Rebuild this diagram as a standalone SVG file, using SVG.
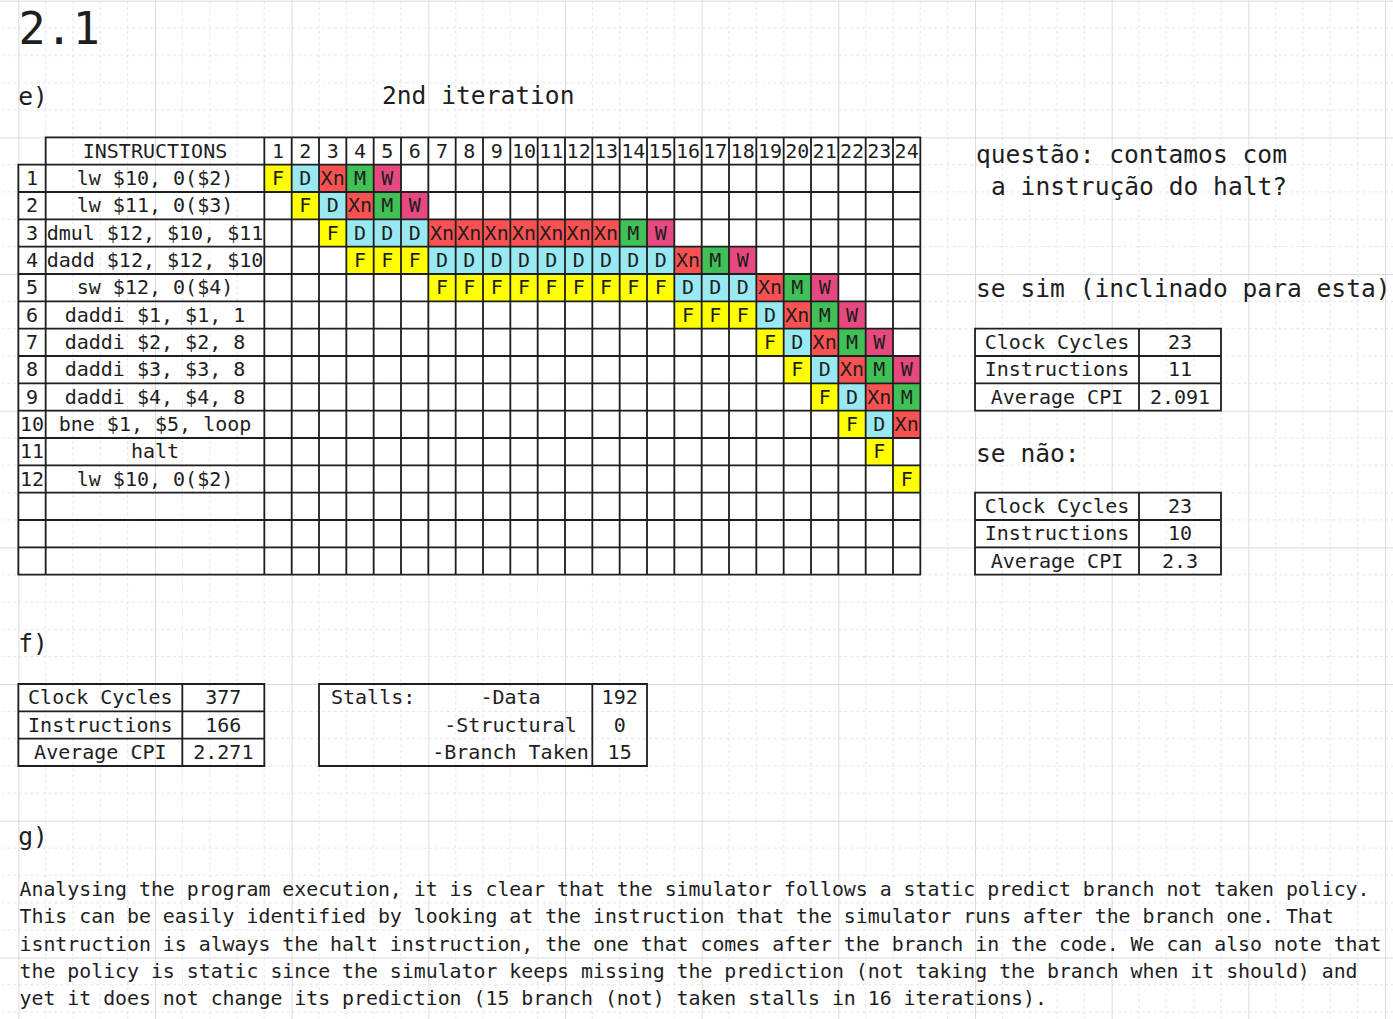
<svg xmlns="http://www.w3.org/2000/svg" width="1393" height="1019" viewBox="0 0 1393 1019">
<style>
text{font-family:"DejaVu Sans Mono","Liberation Mono",monospace;fill:#1e1e1e}
.t20{font-size:20px}
.t25{font-size:24.6px}
.c{text-anchor:middle}
.ln{fill:none;stroke:#1e1e1e;stroke-width:1.8;stroke-linecap:square}
.cell{stroke:none}
.ct{font-size:20px;text-anchor:middle}
.para{font-size:19.85px}
</style>
<defs>
<pattern id="grid" patternUnits="userSpaceOnUse" x="18.333" y="0.667" width="136.667" height="136.667">
<path d="M27.333 0V136.667M54.667 0V136.667M82 0V136.667M109.333 0V136.667M0 27.333H136.667M0 54.667H136.667M0 82H136.667M0 109.333H136.667" fill="none" stroke="#e4e4e4" stroke-width="1" stroke-dasharray="3 3"/>
<path d="M0.5 0V136.667M0 0.5H136.667" fill="none" stroke="#dcdcdc" stroke-width="1"/>
</pattern>
<g id="F"><rect class="cell" width="27.333" height="27.333" fill="#ffff00"/><text class="ct" x="13.667" y="20.33">F</text></g>
<g id="D"><rect class="cell" width="27.333" height="27.333" fill="#99e9f2"/><text class="ct" x="13.667" y="20.33">D</text></g>
<g id="X"><rect class="cell" width="27.333" height="27.333" fill="#fa5252"/><text class="ct" x="13.667" y="20.33">Xn</text></g>
<g id="M"><rect class="cell" width="27.333" height="27.333" fill="#40c057"/><text class="ct" x="13.667" y="20.33">M</text></g>
<g id="W"><rect class="cell" width="27.333" height="27.333" fill="#e64980"/><text class="ct" x="13.667" y="20.33">W</text></g>
</defs>
<rect width="1393" height="1019" fill="#ffffff"/>
<rect width="1393" height="1019" fill="url(#grid)"/>

<g id="headings">
<text x="18.5" y="43.5" style="font-size:45px">2.1</text>
<text class="t25" x="18.3" y="105">e)</text>
<text class="t25" x="382" y="103.5">2nd iteration</text>
<text class="t25" x="18.3" y="652">f)</text>
<text class="t25" x="18.3" y="845">g)</text>
</g>

<g id="pipeline-table">
<g id="pipeline-cells">
<use href="#F" x="264.33" y="164.67"/><use href="#D" x="291.67" y="164.67"/><use href="#X" x="319" y="164.67"/><use href="#M" x="346.33" y="164.67"/><use href="#W" x="373.67" y="164.67"/>
<use href="#F" x="291.67" y="192"/><use href="#D" x="319" y="192"/><use href="#X" x="346.33" y="192"/><use href="#M" x="373.67" y="192"/><use href="#W" x="401" y="192"/>
<use href="#F" x="319" y="219.33"/><use href="#D" x="346.33" y="219.33"/><use href="#D" x="373.67" y="219.33"/><use href="#D" x="401" y="219.33"/><use href="#X" x="428.33" y="219.33"/><use href="#X" x="455.67" y="219.33"/><use href="#X" x="483" y="219.33"/><use href="#X" x="510.33" y="219.33"/><use href="#X" x="537.67" y="219.33"/><use href="#X" x="565" y="219.33"/><use href="#X" x="592.33" y="219.33"/><use href="#M" x="619.67" y="219.33"/><use href="#W" x="647" y="219.33"/>
<use href="#F" x="346.33" y="246.67"/><use href="#F" x="373.67" y="246.67"/><use href="#F" x="401" y="246.67"/><use href="#D" x="428.33" y="246.67"/><use href="#D" x="455.67" y="246.67"/><use href="#D" x="483" y="246.67"/><use href="#D" x="510.33" y="246.67"/><use href="#D" x="537.67" y="246.67"/><use href="#D" x="565" y="246.67"/><use href="#D" x="592.33" y="246.67"/><use href="#D" x="619.67" y="246.67"/><use href="#D" x="647" y="246.67"/><use href="#X" x="674.33" y="246.67"/><use href="#M" x="701.67" y="246.67"/><use href="#W" x="729" y="246.67"/>
<use href="#F" x="428.33" y="274"/><use href="#F" x="455.67" y="274"/><use href="#F" x="483" y="274"/><use href="#F" x="510.33" y="274"/><use href="#F" x="537.67" y="274"/><use href="#F" x="565" y="274"/><use href="#F" x="592.33" y="274"/><use href="#F" x="619.67" y="274"/><use href="#F" x="647" y="274"/><use href="#D" x="674.33" y="274"/><use href="#D" x="701.67" y="274"/><use href="#D" x="729" y="274"/><use href="#X" x="756.33" y="274"/><use href="#M" x="783.67" y="274"/><use href="#W" x="811" y="274"/>
<use href="#F" x="674.33" y="301.33"/><use href="#F" x="701.67" y="301.33"/><use href="#F" x="729" y="301.33"/><use href="#D" x="756.33" y="301.33"/><use href="#X" x="783.67" y="301.33"/><use href="#M" x="811" y="301.33"/><use href="#W" x="838.33" y="301.33"/>
<use href="#F" x="756.33" y="328.67"/><use href="#D" x="783.67" y="328.67"/><use href="#X" x="811" y="328.67"/><use href="#M" x="838.33" y="328.67"/><use href="#W" x="865.67" y="328.67"/>
<use href="#F" x="783.67" y="356"/><use href="#D" x="811" y="356"/><use href="#X" x="838.33" y="356"/><use href="#M" x="865.67" y="356"/><use href="#W" x="893" y="356"/>
<use href="#F" x="811" y="383.33"/><use href="#D" x="838.33" y="383.33"/><use href="#X" x="865.67" y="383.33"/><use href="#M" x="893" y="383.33"/>
<use href="#F" x="838.33" y="410.67"/><use href="#D" x="865.67" y="410.67"/><use href="#X" x="893" y="410.67"/>
<use href="#F" x="865.67" y="438"/>
<use href="#F" x="893" y="465.33"/>
</g>
<path class="ln" d="M45.67 137.33H920.33M18.33 164.67H920.33M18.33 192H920.33M18.33 219.33H920.33M18.33 246.67H920.33M18.33 274H920.33M18.33 301.33H920.33M18.33 328.67H920.33M18.33 356H920.33M18.33 383.33H920.33M18.33 410.67H920.33M18.33 438H920.33M18.33 465.33H920.33M18.33 492.67H920.33M18.33 520H920.33M18.33 547.33H920.33M18.33 574.67H920.33
M18.33 164.67V574.67M45.67 137.33V574.67M264.33 137.33V574.67M291.67 137.33V574.67M319 137.33V574.67M346.33 137.33V574.67M373.67 137.33V574.67M401 137.33V574.67M428.33 137.33V574.67M455.67 137.33V574.67M483 137.33V574.67M510.33 137.33V574.67M537.67 137.33V574.67M565 137.33V574.67M592.33 137.33V574.67M619.67 137.33V574.67M647 137.33V574.67M674.33 137.33V574.67M701.67 137.33V574.67M729 137.33V574.67M756.33 137.33V574.67M783.67 137.33V574.67M811 137.33V574.67M838.33 137.33V574.67M865.67 137.33V574.67M893 137.33V574.67M920.33 137.33V574.67"/>
<g class="t20 c">
<text x="155" y="157.67">INSTRUCTIONS</text>
<text x="278" y="157.67">1</text><text x="305.33" y="157.67">2</text><text x="332.67" y="157.67">3</text><text x="360" y="157.67">4</text><text x="387.33" y="157.67">5</text><text x="414.67" y="157.67">6</text><text x="442" y="157.67">7</text><text x="469.33" y="157.67">8</text><text x="496.67" y="157.67">9</text><text x="524" y="157.67">10</text><text x="551.33" y="157.67">11</text><text x="578.67" y="157.67">12</text><text x="606" y="157.67">13</text><text x="633.33" y="157.67">14</text><text x="660.67" y="157.67">15</text><text x="688" y="157.67">16</text><text x="715.33" y="157.67">17</text><text x="742.67" y="157.67">18</text><text x="770" y="157.67">19</text><text x="797.33" y="157.67">20</text><text x="824.67" y="157.67">21</text><text x="852" y="157.67">22</text><text x="879.33" y="157.67">23</text><text x="906.67" y="157.67">24</text>
<text x="32" y="185">1</text><text x="32" y="212.33">2</text><text x="32" y="239.67">3</text><text x="32" y="267">4</text><text x="32" y="294.33">5</text><text x="32" y="321.67">6</text><text x="32" y="349">7</text><text x="32" y="376.33">8</text><text x="32" y="403.67">9</text><text x="32" y="431">10</text><text x="32" y="458.33">11</text><text x="32" y="485.67">12</text>
<text x="155" y="185">lw $10, 0($2)</text>
<text x="155" y="212.33">lw $11, 0($3)</text>
<text x="155" y="239.67">dmul $12, $10, $11</text>
<text x="155" y="267">dadd $12, $12, $10</text>
<text x="155" y="294.33">sw $12, 0($4)</text>
<text x="155" y="321.67">daddi $1, $1, 1</text>
<text x="155" y="349">daddi $2, $2, 8</text>
<text x="155" y="376.33">daddi $3, $3, 8</text>
<text x="155" y="403.67">daddi $4, $4, 8</text>
<text x="155" y="431">bne $1, $5, loop</text>
<text x="155" y="458.33">halt</text>
<text x="155" y="485.67">lw $10, 0($2)</text>
</g>
</g>

<g id="question">
<text class="t25" x="976" y="163">questão: contamos com</text>
<text class="t25" x="991" y="195">a instrução do halt?</text>
</g>

<g id="stats-yes">
<text class="t25" x="976" y="297">se sim (inclinado para esta)</text>
<path class="ln" d="M975 328.67H1221M975 356H1221M975 383.33H1221M975 410.67H1221M975 328.67V410.67M1139 328.67V410.67M1221 328.67V410.67"/>
<g class="t20 c">
<text x="1057" y="349">Clock Cycles</text><text x="1180" y="349">23</text>
<text x="1057" y="376.33">Instructions</text><text x="1180" y="376.33">11</text>
<text x="1057" y="403.67">Average CPI</text><text x="1180" y="403.67">2.091</text>
</g>
</g>

<g id="stats-no">
<text class="t25" x="976" y="461.5">se não:</text>
<path class="ln" d="M975 492.67H1221M975 520H1221M975 547.33H1221M975 574.67H1221M975 492.67V574.67M1139 492.67V574.67M1221 492.67V574.67"/>
<g class="t20 c">
<text x="1057" y="513">Clock Cycles</text><text x="1180" y="513">23</text>
<text x="1057" y="540.33">Instructions</text><text x="1180" y="540.33">10</text>
<text x="1057" y="567.67">Average CPI</text><text x="1180" y="567.67">2.3</text>
</g>
</g>

<g id="totals">
<path class="ln" d="M18.33 684H264.33M18.33 711.33H264.33M18.33 738.67H264.33M18.33 766H264.33M18.33 684V766M182.33 684V766M264.33 684V766"/>
<g class="t20 c">
<text x="100.33" y="704.33">Clock Cycles</text><text x="223.33" y="704.33">377</text>
<text x="100.33" y="731.67">Instructions</text><text x="223.33" y="731.67">166</text>
<text x="100.33" y="759">Average CPI</text><text x="223.33" y="759">2.271</text>
</g>
</g>

<g id="stalls">
<path class="ln" d="M319 684H647V766H319ZM592.33 684V766"/>
<g class="t20">
<text x="331" y="704.33">Stalls:</text>
<text class="c" x="510.5" y="704.33">-Data</text>
<text class="c" x="510.5" y="731.67">-Structural</text>
<text class="c" x="510.5" y="759">-Branch Taken</text>
<text class="c" x="619.67" y="704.33">192</text>
<text class="c" x="619.67" y="731.67">0</text>
<text class="c" x="619.67" y="759">15</text>
</g>
</g>

<g id="answer-g">
<text class="para" x="19.5" y="896">Analysing the program execution, it is clear that the simulator follows a static predict branch not taken policy.</text>
<text class="para" x="19.5" y="923.3">This can be easily identified by looking at the instruction that the simulator runs after the branch one. That</text>
<text class="para" x="19.5" y="950.7">isntruction is always the halt instruction, the one that comes after the branch in the code. We can also note that</text>
<text class="para" x="19.5" y="978">the policy is static since the simulator keeps missing the prediction (not taking the branch when it should) and</text>
<text class="para" x="19.5" y="1005.3">yet it does not change its prediction (15 branch (not) taken stalls in 16 iterations).</text>
</g>

<g id="connectors"/>
</svg>
